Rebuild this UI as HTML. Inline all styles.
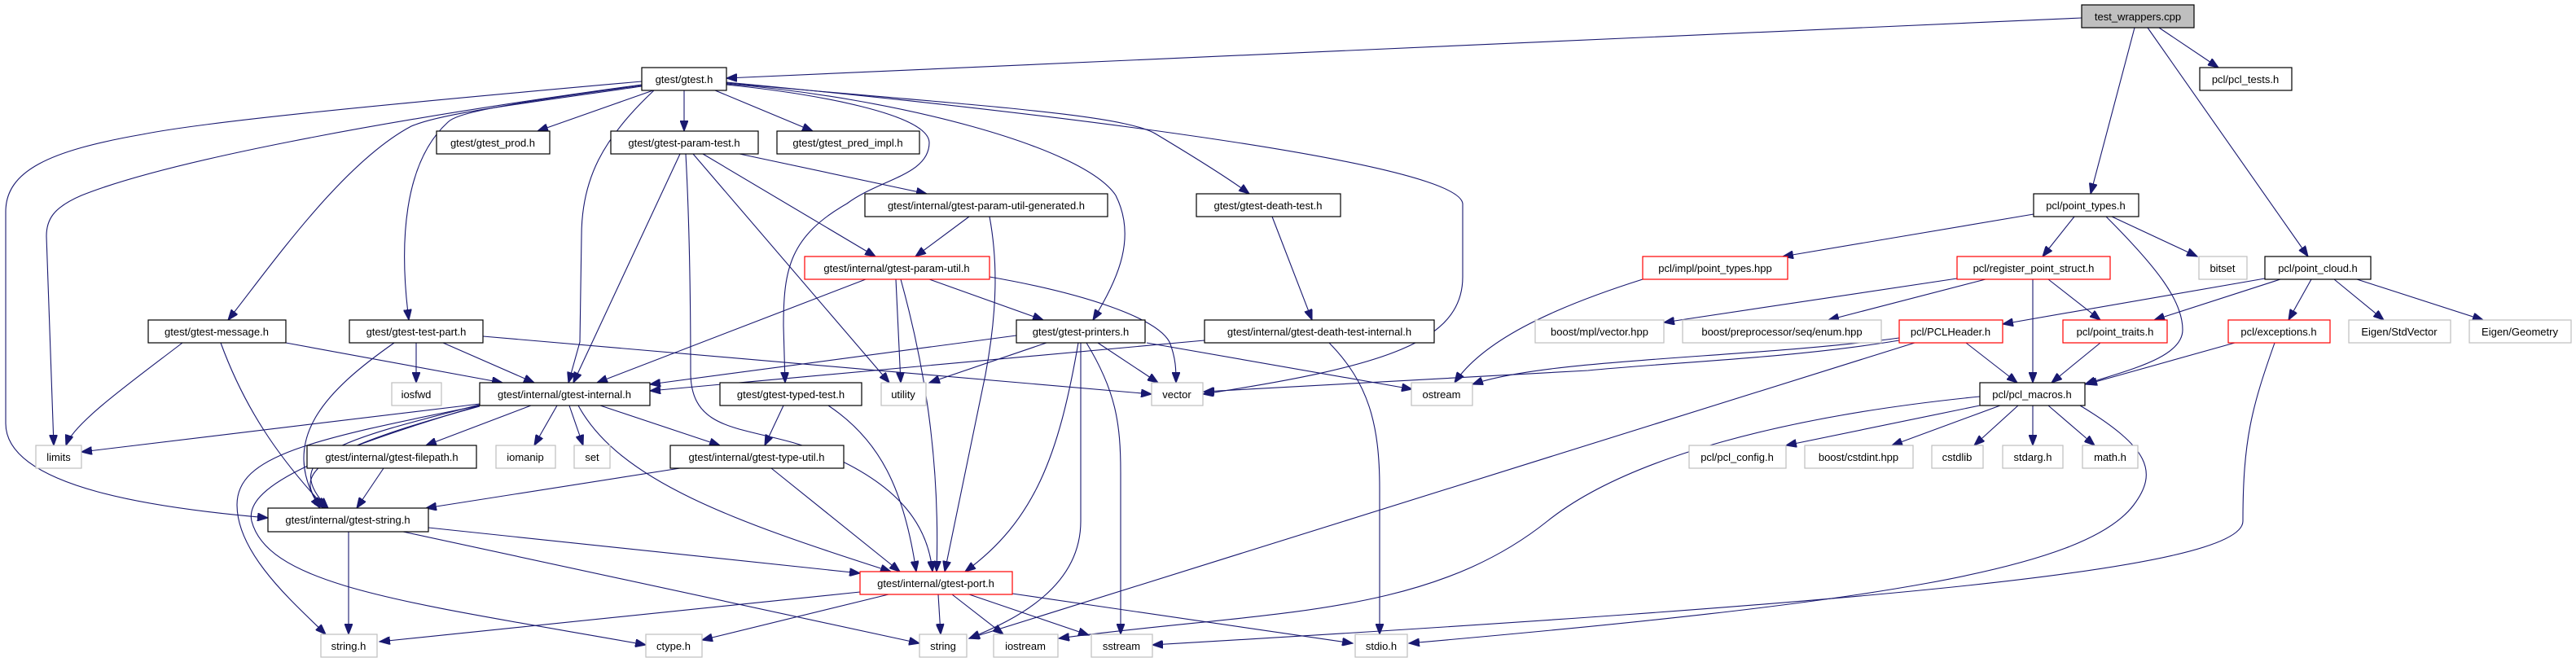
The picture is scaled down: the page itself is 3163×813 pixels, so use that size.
<!DOCTYPE html>
<html><head><meta charset="utf-8"><style>
html,body{margin:0;padding:0;background:#fff;}
svg{display:block;}
text{font-family:"Liberation Sans",sans-serif;font-size:13px;fill:#000;text-anchor:middle;}
.n{fill:#fff;stroke:#000;stroke-width:1.2;}
.g{fill:#fff;stroke:#bfbfbf;stroke-width:1.2;}
.r{fill:#fff;stroke:#ff0000;stroke-width:1.2;}
path{fill:none;stroke:#191970;stroke-width:1.1;}
</style></head><body>
<svg width="3163" height="813" viewBox="0 0 3163 813" xmlns="http://www.w3.org/2000/svg">
<defs><marker id="a" markerUnits="userSpaceOnUse" markerWidth="14" markerHeight="10" refX="13" refY="5" orient="auto"><path d="M0,0 L13,5 L0,10 z" style="fill:#191970;stroke:#191970"/></marker></defs>
<g marker-end="url(#a)">
<path d="M2556,22 L892,96"/>
<path d="M2651,34 L2724,83"/>
<path d="M2621,34 L2567,238"/>
<path d="M2637,34 L2834,315"/>
<path d="M802,111 L660,161"/>
<path d="M840,111 L840,161"/>
<path d="M878,111 L998,161"/>
<path d="M908,189 L1138,238"/>
<path d="M863,189 L1075,315"/>
<path d="M803,111 C740,170 714,220 714,290 L712,420 L698,470"/>
<path d="M835,189 L704,470"/>
<path d="M842,189 C848,300 848,420 848,460 C850,540 930,520 1020,560 C1110,600 1140,650 1145,702"/>
<path d="M851,189 L1092,470"/>
<path d="M788,106 C620,130 540,140 505,155 C420,200 330,330 280,393"/>
<path d="M788,105 C600,130 560,140 550,150 C495,200 490,300 502,393"/>
<path d="M788,100 C450,130 250,150 175,165 C60,185 7,210 7,260 L7,520 C7,600 200,625 329,636"/>
<path d="M788,104 C450,150 200,200 100,240 C65,255 57,270 57,290 L66,547"/>
<path d="M892,104 C1000,115 1140,140 1141,175 C1141,215 1080,220 1040,250 C970,290 962,330 962,400 L964,470"/>
<path d="M892,103 C1100,120 1330,180 1370,240 C1395,290 1375,340 1342,393"/>
<path d="M892,102 C1200,130 1380,140 1420,165 C1470,195 1510,220 1534,238"/>
<path d="M892,101 C1300,140 1790,200 1796,250 L1796,340 C1796,420 1700,450 1477,484"/>
<path d="M1190,266 L1124,315"/>
<path d="M1215,266 C1225,320 1225,380 1210,460 L1160,702"/>
<path d="M1063,343 L733,470"/>
<path d="M1141,343 L1281,393"/>
<path d="M1100,343 L1106,470"/>
<path d="M1106,343 C1130,430 1155,550 1150,702"/>
<path d="M1215,340 C1330,360 1420,390 1436,420 C1444,440 1444,455 1444,470"/>
<path d="M1562,266 L1611,393"/>
<path d="M1479,418 L798,480"/>
<path d="M1632,421 C1680,470 1694,520 1694,600 L1694,779"/>
<path d="M224,421 C160,470 90,520 81,547"/>
<path d="M271,421 C300,500 340,560 400,624"/>
<path d="M351,421 L617,470"/>
<path d="M511,421 L511,470"/>
<path d="M544,421 L656,470"/>
<path d="M484,421 C400,480 340,540 393,624"/>
<path d="M593,413 L1414,484"/>
<path d="M1248,412 L798,472"/>
<path d="M1285,421 L1141,470"/>
<path d="M1348,421 L1422,470"/>
<path d="M1408,421 L1734,478"/>
<path d="M1324,421 C1300,560 1270,640 1185,702"/>
<path d="M1327,421 L1327,640 C1327,720 1250,760 1190,784"/>
<path d="M1334,421 C1370,480 1376,520 1376,580 L1376,779"/>
<path d="M962,498 L939,547"/>
<path d="M1017,498 C1080,540 1110,600 1125,702"/>
<path d="M589,496 L100,555"/>
<path d="M652,498 L523,547"/>
<path d="M684,498 L656,547"/>
<path d="M699,498 L716,547"/>
<path d="M737,498 L884,547"/>
<path d="M710,498 C760,590 900,640 1094,702"/>
<path d="M589,497 C420,540 340,560 403,624"/>
<path d="M589,499 C400,550 350,580 398,624"/>
<path d="M589,498 C380,540 291,560 291,620 C291,680 360,740 400,779"/>
<path d="M589,498 C380,560 300,600 309,640 C330,720 500,740 793,792"/>
<path d="M471,575 L438,624"/>
<path d="M835,575 L523,624"/>
<path d="M947,575 L1105,702"/>
<path d="M428,653 L428,779"/>
<path d="M526,648 L1056,704"/>
<path d="M495,653 L1129,790"/>
<path d="M1056,727 L466,788"/>
<path d="M1091,730 L862,786"/>
<path d="M1152,730 L1155,779"/>
<path d="M1169,730 L1232,779"/>
<path d="M1190,730 L1337,780"/>
<path d="M1243,729 L1661,790"/>
<path d="M2497,263 L2189,315"/>
<path d="M2547,266 L2508,315"/>
<path d="M2593,266 L2698,315"/>
<path d="M2586,266 C2650,330 2680,370 2680,405 C2680,440 2610,455 2560,472"/>
<path d="M2017,343 C1900,380 1820,420 1786,470"/>
<path d="M2403,342 L2043,396"/>
<path d="M2438,343 L2245,393"/>
<path d="M2496,343 L2496,470"/>
<path d="M2515,343 L2579,393"/>
<path d="M2781,342 L2459,398"/>
<path d="M2800,343 L2645,393"/>
<path d="M2838,343 L2810,393"/>
<path d="M2866,343 L2927,393"/>
<path d="M2894,343 L3049,393"/>
<path d="M2332,418 C2200,440 2050,445 1950,455 L1478,481"/>
<path d="M2332,415 C2150,440 1900,440 1808,472"/>
<path d="M2414,421 L2477,470"/>
<path d="M2351,421 L1190,784"/>
<path d="M2579,421 L2519,470"/>
<path d="M2744,421 L2562,472"/>
<path d="M2793,421 C2765,500 2754,540 2754,640 C2754,700 2300,740 1415,792"/>
<path d="M2431,498 L2193,547"/>
<path d="M2456,498 L2323,547"/>
<path d="M2478,498 L2424,547"/>
<path d="M2496,498 L2496,547"/>
<path d="M2515,498 L2572,547"/>
<path d="M2431,487 C2200,510 2000,560 1900,640 C1750,760 1550,750 1300,784"/>
<path d="M2554,498 C2640,550 2650,580 2620,620 C2560,700 2300,740 1730,790"/>
</g>
<g>
<rect x="2556" y="6" width="138" height="28" style="fill:#bfbfbf;stroke:#000;stroke-width:1.2"/><text x="2625" y="25">test_wrappers.cpp</text>
<rect class="n" x="788" y="83" width="104" height="28"/><text x="840" y="102">gtest/gtest.h</text>
<rect class="n" x="2701" y="83" width="113" height="28"/><text x="2757" y="102">pcl/pcl_tests.h</text>
<rect class="n" x="536" y="161" width="139" height="28"/><text x="605" y="180">gtest/gtest_prod.h</text>
<rect class="n" x="750" y="161" width="181" height="28"/><text x="840" y="180">gtest/gtest-param-test.h</text>
<rect class="n" x="954" y="161" width="175" height="28"/><text x="1041" y="180">gtest/gtest_pred_impl.h</text>
<rect class="n" x="1062" y="238" width="298" height="28"/><text x="1211" y="257">gtest/internal/gtest-param-util-generated.h</text>
<rect class="n" x="1469" y="238" width="177" height="28"/><text x="1557" y="257">gtest/gtest-death-test.h</text>
<rect class="n" x="2497" y="238" width="129" height="28"/><text x="2561" y="257">pcl/point_types.h</text>
<rect class="r" x="988" y="315" width="227" height="28"/><text x="1101" y="334">gtest/internal/gtest-param-util.h</text>
<rect class="r" x="2017" y="315" width="178" height="28"/><text x="2106" y="334">pcl/impl/point_types.hpp</text>
<rect class="r" x="2403" y="315" width="188" height="28"/><text x="2497" y="334">pcl/register_point_struct.h</text>
<rect class="g" x="2700" y="315" width="59" height="28"/><text x="2729" y="334">bitset</text>
<rect class="n" x="2781" y="315" width="130" height="28"/><text x="2846" y="334">pcl/point_cloud.h</text>
<rect class="n" x="182" y="393" width="169" height="28"/><text x="266" y="412">gtest/gtest-message.h</text>
<rect class="n" x="429" y="393" width="164" height="28"/><text x="511" y="412">gtest/gtest-test-part.h</text>
<rect class="n" x="1248" y="393" width="158" height="28"/><text x="1327" y="412">gtest/gtest-printers.h</text>
<rect class="n" x="1479" y="393" width="282" height="28"/><text x="1620" y="412">gtest/internal/gtest-death-test-internal.h</text>
<rect class="g" x="1885" y="393" width="158" height="28"/><text x="1964" y="412">boost/mpl/vector.hpp</text>
<rect class="g" x="2066" y="393" width="244" height="28"/><text x="2188" y="412">boost/preprocessor/seq/enum.hpp</text>
<rect class="r" x="2332" y="393" width="127" height="28"/><text x="2395" y="412">pcl/PCLHeader.h</text>
<rect class="r" x="2533" y="393" width="128" height="28"/><text x="2597" y="412">pcl/point_traits.h</text>
<rect class="r" x="2736" y="393" width="125" height="28"/><text x="2798" y="412">pcl/exceptions.h</text>
<rect class="g" x="2884" y="393" width="125" height="28"/><text x="2946" y="412">Eigen/StdVector</text>
<rect class="g" x="3032" y="393" width="125" height="28"/><text x="3094" y="412">Eigen/Geometry</text>
<rect class="g" x="481" y="470" width="61" height="28"/><text x="511" y="489">iosfwd</text>
<rect class="n" x="589" y="470" width="209" height="28"/><text x="693" y="489">gtest/internal/gtest-internal.h</text>
<rect class="n" x="884" y="470" width="174" height="28"/><text x="971" y="489">gtest/gtest-typed-test.h</text>
<rect class="g" x="1082" y="470" width="55" height="28"/><text x="1109" y="489">utility</text>
<rect class="g" x="1414" y="470" width="63" height="28"/><text x="1445" y="489">vector</text>
<rect class="g" x="1733" y="470" width="75" height="28"/><text x="1770" y="489">ostream</text>
<rect class="n" x="2431" y="470" width="129" height="28"/><text x="2495" y="489">pcl/pcl_macros.h</text>
<rect class="g" x="44" y="547" width="56" height="28"/><text x="72" y="566">limits</text>
<rect class="n" x="377" y="547" width="208" height="28"/><text x="481" y="566">gtest/internal/gtest-filepath.h</text>
<rect class="g" x="609" y="547" width="73" height="28"/><text x="645" y="566">iomanip</text>
<rect class="g" x="705" y="547" width="44" height="28"/><text x="727" y="566">set</text>
<rect class="n" x="823" y="547" width="213" height="28"/><text x="929" y="566">gtest/internal/gtest-type-util.h</text>
<rect class="g" x="2074" y="547" width="119" height="28"/><text x="2133" y="566">pcl/pcl_config.h</text>
<rect class="g" x="2216" y="547" width="133" height="28"/><text x="2282" y="566">boost/cstdint.hpp</text>
<rect class="g" x="2372" y="547" width="63" height="28"/><text x="2403" y="566">cstdlib</text>
<rect class="g" x="2459" y="547" width="74" height="28"/><text x="2496" y="566">stdarg.h</text>
<rect class="g" x="2557" y="547" width="68" height="28"/><text x="2591" y="566">math.h</text>
<rect class="n" x="329" y="624" width="197" height="29"/><text x="427" y="643">gtest/internal/gtest-string.h</text>
<rect class="r" x="1056" y="702" width="187" height="28"/><text x="1149" y="721">gtest/internal/gtest-port.h</text>
<rect class="g" x="394" y="779" width="69" height="28"/><text x="428" y="798">string.h</text>
<rect class="g" x="793" y="779" width="69" height="28"/><text x="827" y="798">ctype.h</text>
<rect class="g" x="1129" y="779" width="58" height="28"/><text x="1158" y="798">string</text>
<rect class="g" x="1220" y="779" width="79" height="28"/><text x="1259" y="798">iostream</text>
<rect class="g" x="1340" y="779" width="75" height="28"/><text x="1377" y="798">sstream</text>
<rect class="g" x="1664" y="779" width="64" height="28"/><text x="1696" y="798">stdio.h</text>
</g>
</svg>
</body></html>
